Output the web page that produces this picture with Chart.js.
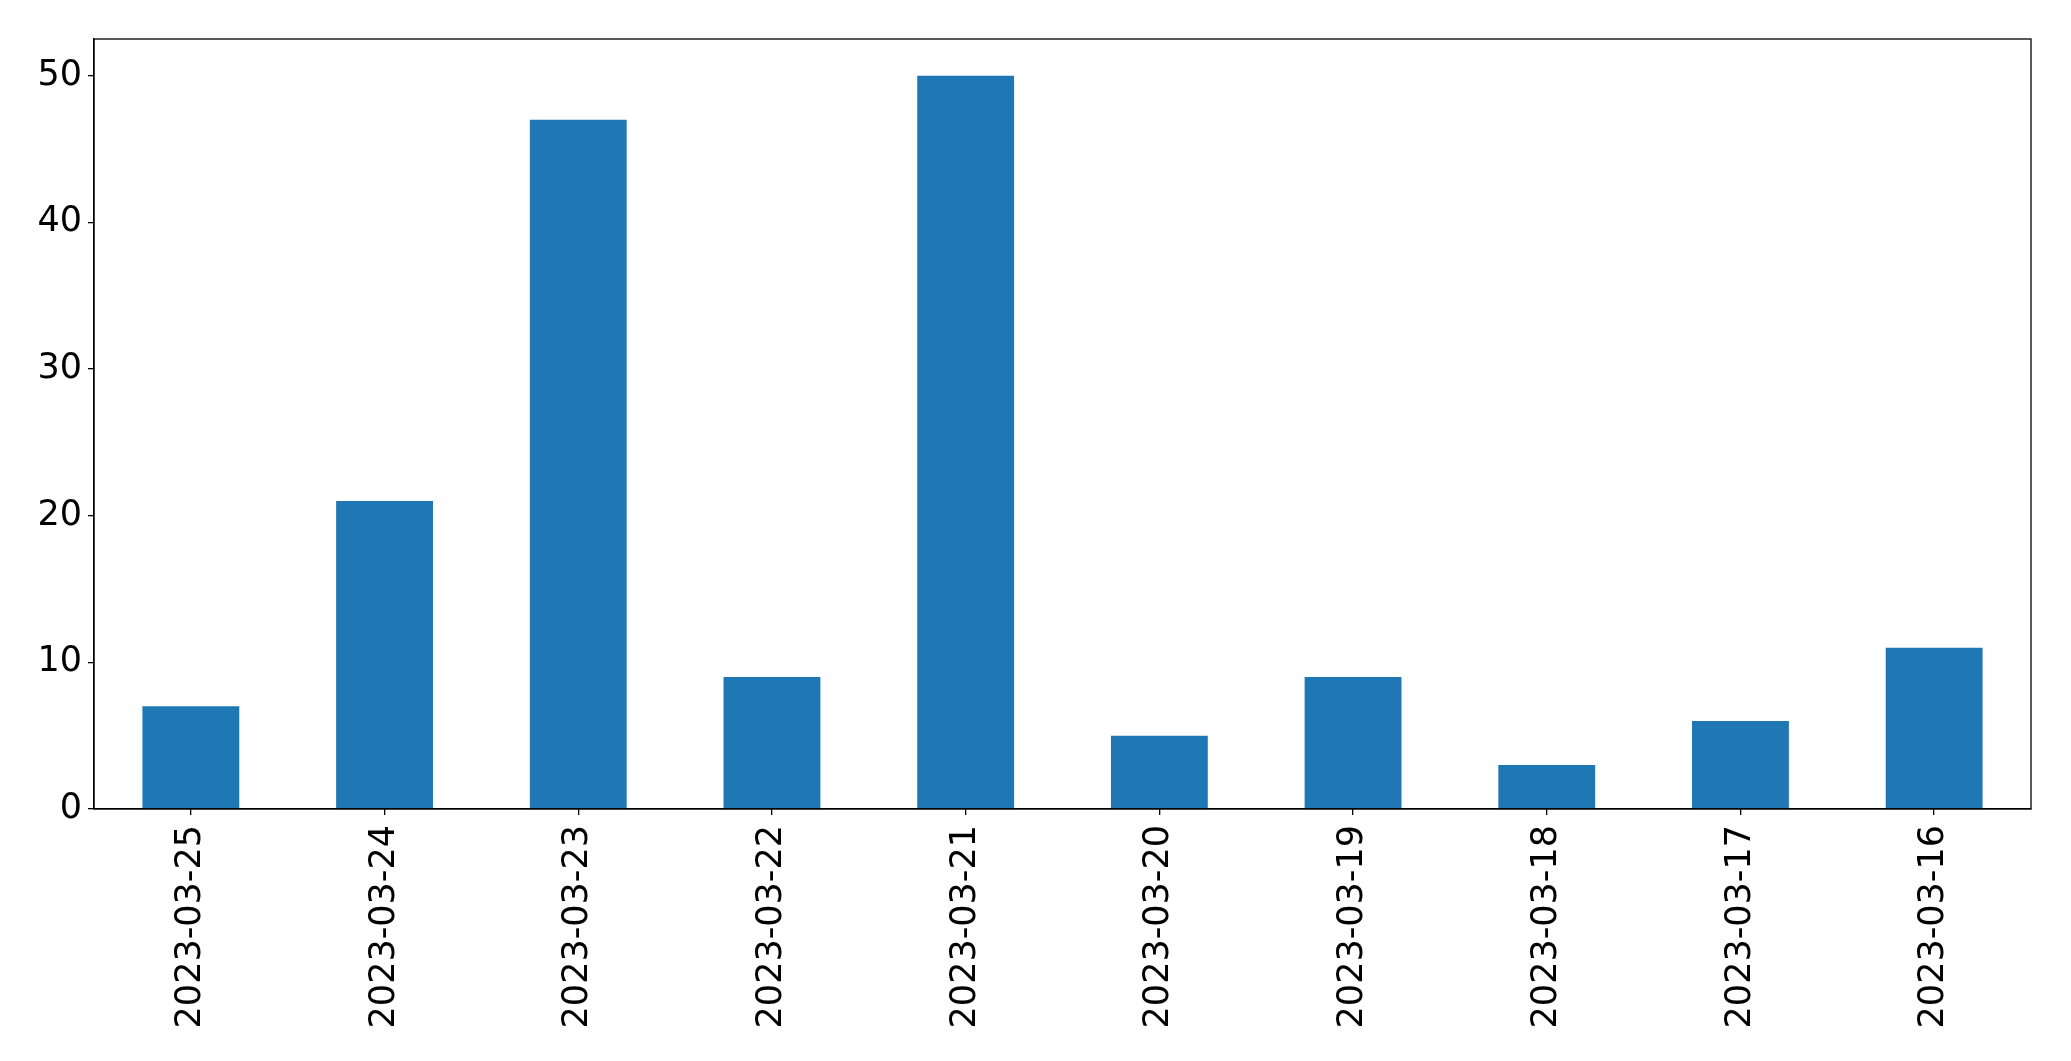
<!DOCTYPE html>
<html>
<head>
<meta charset="utf-8">
<script src="https://cdn.jsdelivr.net/npm/chart.js@4/dist/chart.umd.min.js"></script>
<style>
  html, body { margin: 0; padding: 0; background: #fff; }
  #wrap { width: 2071px; height: 1061px; }
</style>
</head>
<body>
<div id="wrap"><canvas id="chart" width="2071" height="1061"></canvas></div>
<script>
const dates = ['2023-03-25', '2023-03-24', '2023-03-23', '2023-03-22', '2023-03-21',
  '2023-03-20', '2023-03-19', '2023-03-18', '2023-03-17', '2023-03-16']
const counts = [7, 21, 47, 9, 50, 5, 9, 3, 6, 11]
const yTicks = [0, 10, 20, 30, 40, 50]

const font = { family: 'DejaVu Sans', size: 35 }

// box around the plot area, like matplotlib spines
const frame = {
  id: 'frame',
  afterDraw(chart) {
    const a = chart.chartArea
    const ctx = chart.ctx
    ctx.save()
    ctx.strokeStyle = '#000'
    ctx.lineWidth = 1.3
    ctx.strokeRect(a.left, a.top, a.right - a.left, a.bottom - a.top)
    ctx.restore()
  }
}

new Chart(document.getElementById('chart'), {
  type: 'bar',
  data: {
    labels: dates,
    datasets: [{
      data: counts,
      backgroundColor: '#1f77b4',
      barPercentage: 0.5,
      categoryPercentage: 1.0
    }]
  },
  options: {
    responsive: false,
    animation: false,
    layout: { padding: { top: 39, right: 40, left: 0, bottom: 0 } },
    plugins: { legend: { display: false }, tooltip: { enabled: false } },
    scales: {
      x: {
        offset: true,
        grid: { display: true, drawOnChartArea: false, offset: false, tickLength: 6, color: '#000', lineWidth: 1.3 },
        border: { display: true, color: '#000', width: 1.3 },
        ticks: { color: '#000', font: font, minRotation: 90, maxRotation: 90, padding: 10, autoSkip: false },
        afterFit(scale) { scale.height = 1061 - 809 }
      },
      y: {
        min: 0,
        max: 52.5,
        grid: { display: true, drawOnChartArea: false, tickLength: 6, color: '#000', lineWidth: 1.3 },
        border: { display: true, color: '#000', width: 1.3 },
        ticks: { color: '#000', font: font, padding: 6, stepSize: 10 },
        afterBuildTicks(scale) {
          scale.ticks = yTicks.map(v => ({ value: v }))
        },
        afterFit(scale) { scale.width = 94 }
      }
    }
  },
  plugins: [frame]
})
</script>
</body>
</html>
